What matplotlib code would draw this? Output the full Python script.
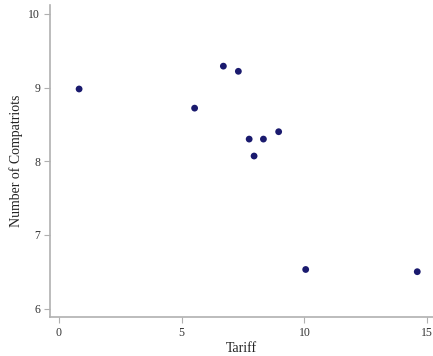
import matplotlib
matplotlib.use('Agg')
import matplotlib.pyplot as plt

# data
tariff = [0.83, 5.53, 6.70, 7.31, 7.75, 7.95, 8.33, 8.95, 10.05, 14.59]
compatriots = [8.98, 8.72, 9.29, 9.22, 8.30, 8.07, 8.30, 8.40, 6.53, 6.50]

xticks = [0, 5, 10, 15]
yticks = [6, 7, 8, 9, 10]

plt.rcParams['font.family'] = ['Liberation Serif', 'DejaVu Serif']

W, H = 433, 356
fig = plt.figure(figsize=(W / 100, H / 100), dpi=100)
# axes box in pixels: left 50, right 433, top 5, bottom 317
ax = fig.add_axes([50 / W, (H - 317) / H, (433 - 50) / W, (317 - 5) / H])

ax.scatter(tariff, compatriots, s=24, color='#1a1a6e', edgecolors='none', zorder=3)

ax.set_xlim(-0.354, 15.23)
ax.set_ylim(5.885, 10.12)
ax.set_xticks(xticks)
ax.set_yticks(yticks)

for side in ['top', 'right']:
    ax.spines[side].set_visible(False)
for side in ['left', 'bottom']:
    ax.spines[side].set_color('#b0b0b0')
    ax.spines[side].set_linewidth(1.2)

ax.tick_params(axis='both', direction='out', length=4, width=0.8,
               color='#b0b0b0', labelsize=8.5, labelcolor='#333333', pad=3)

ax.set_xlabel('Tariff', fontsize=10, color='#222222', labelpad=2)
ax.set_ylabel('Number of Compatriots', fontsize=10, color='#222222', labelpad=4)

fig.savefig('out.png', dpi=100)
